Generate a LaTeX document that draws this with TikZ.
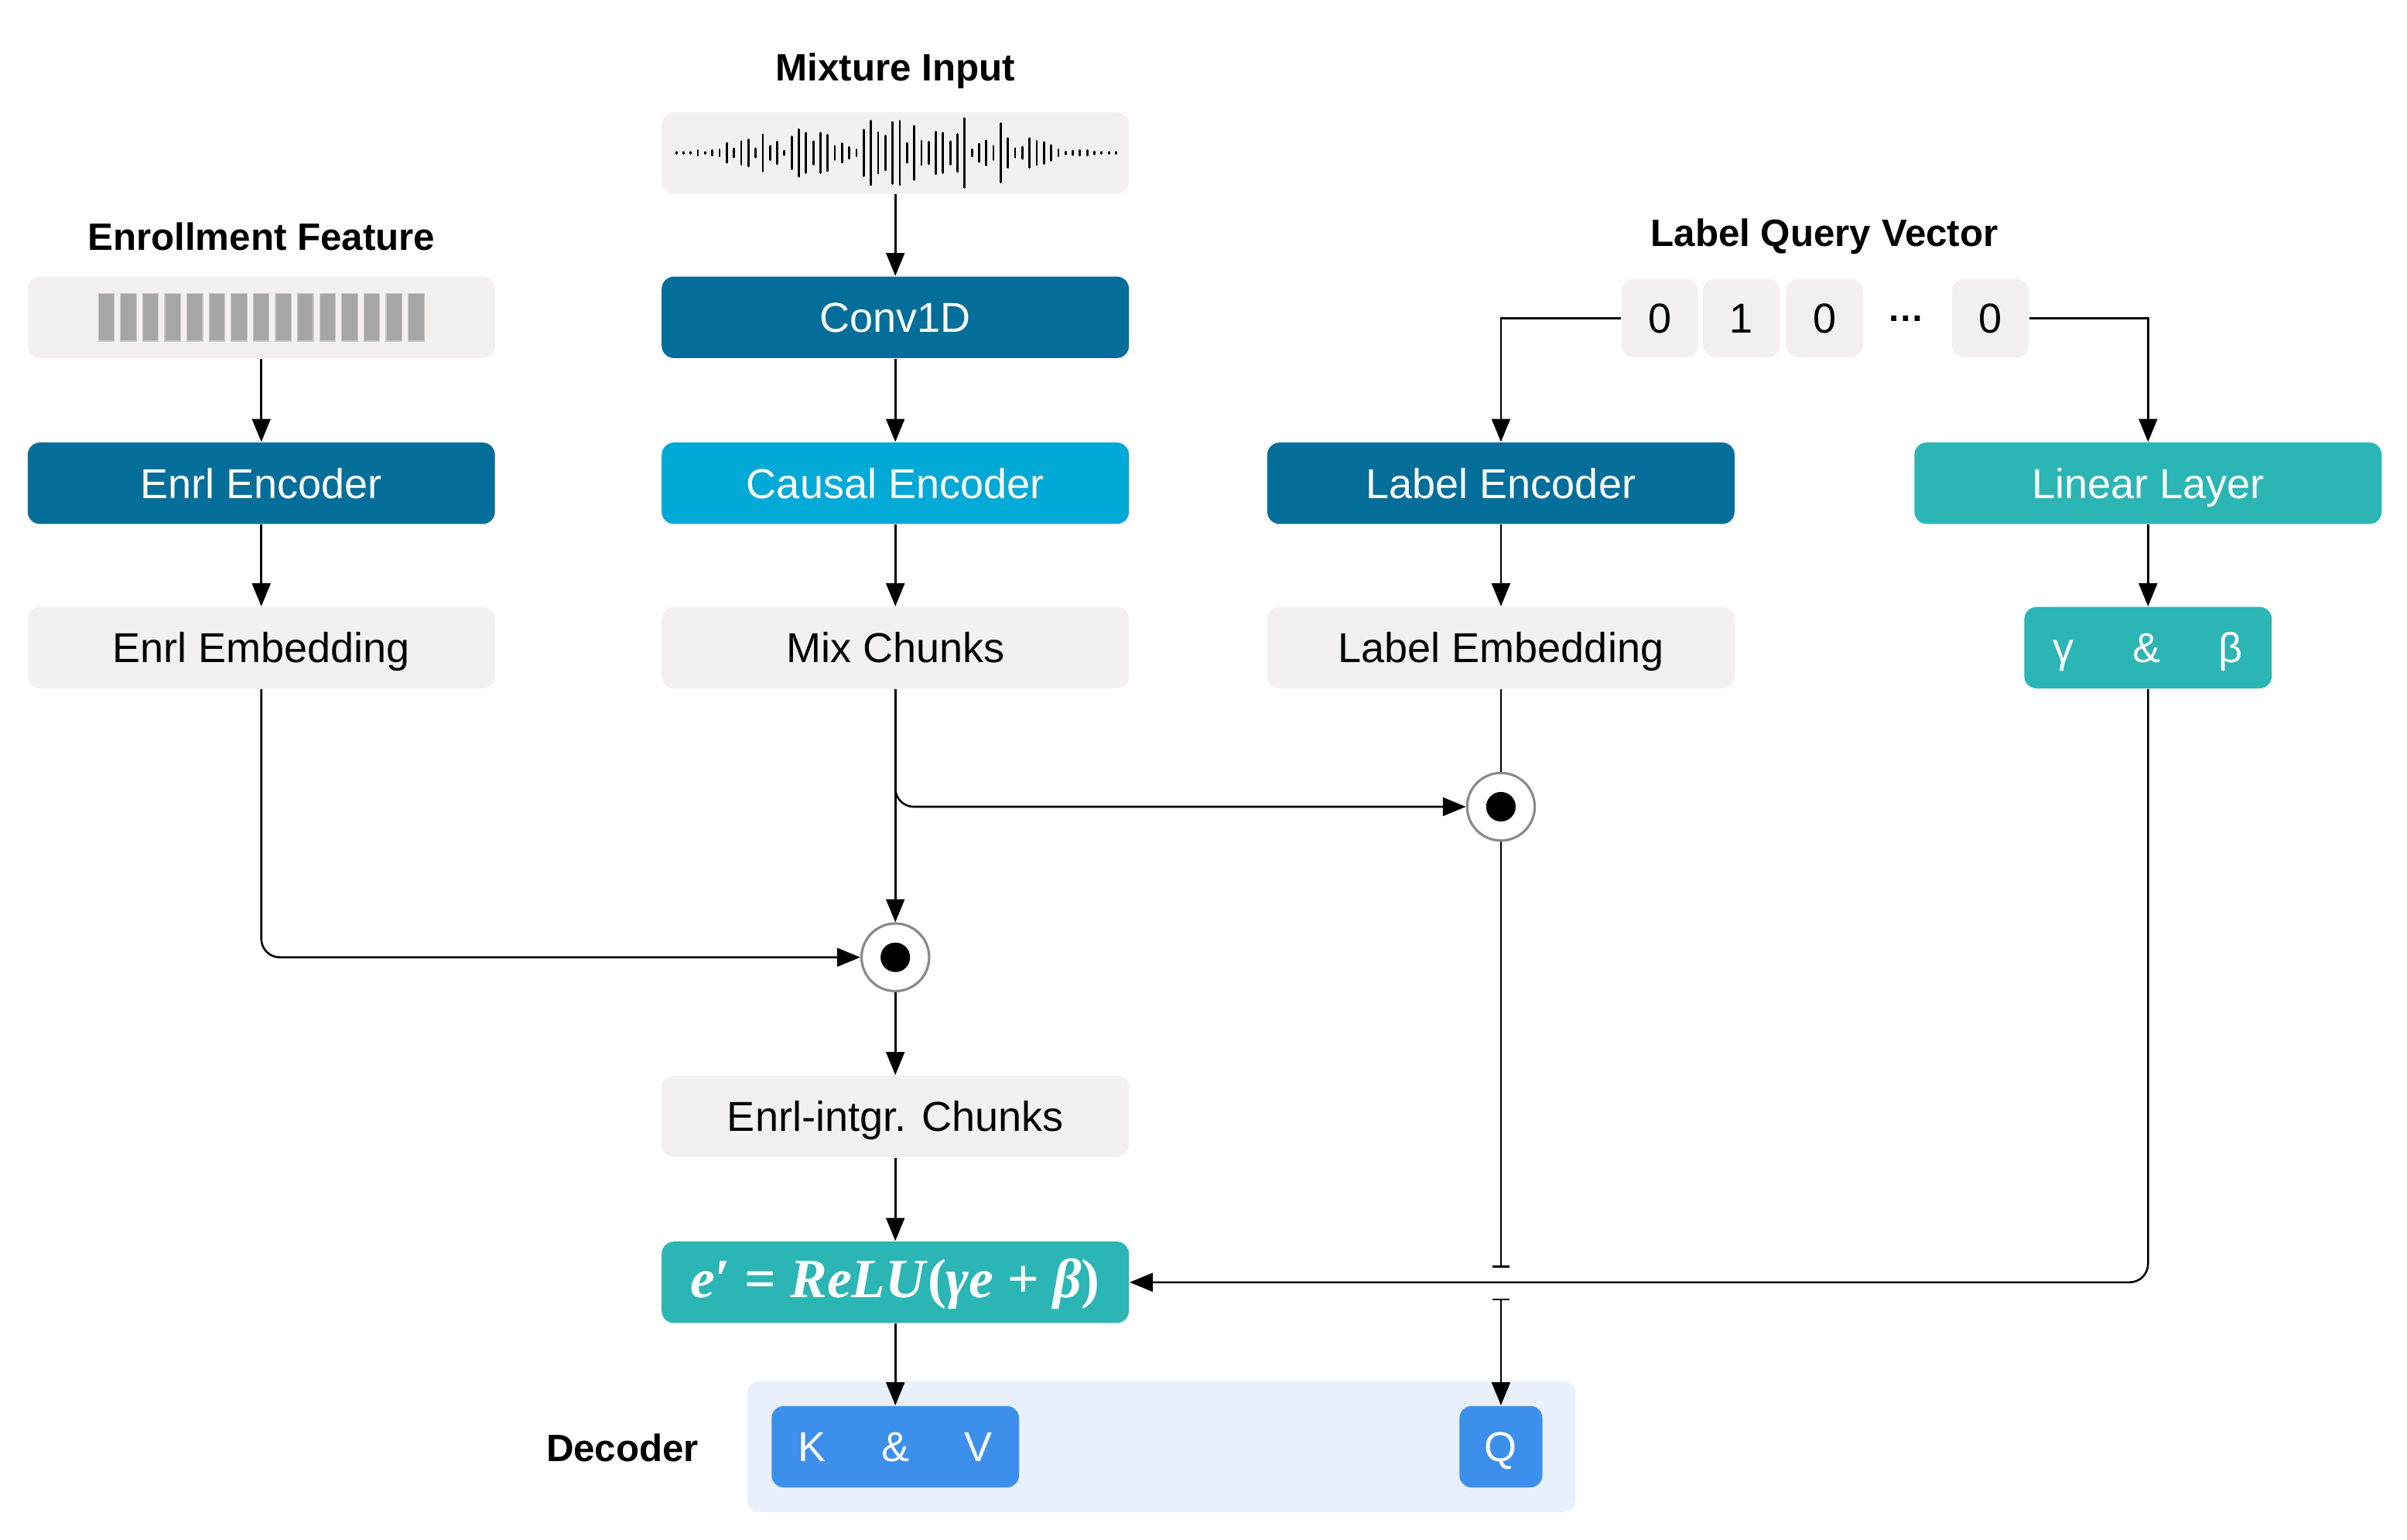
\documentclass[tikz,border=0pt]{standalone}
\usepackage{fontspec}
\setmainfont{Liberation Sans}
\newfontfamily\formulafont{Liberation Serif}
\usetikzlibrary{arrows.meta}

\begin{document}
\begin{tikzpicture}[x=0.5pt,y=0.5pt,yscale=-1,xscale=1,
  arr/.style={line width=0.65pt, -{Triangle[length=7.5pt,width=6pt]}},
  wire/.style={line width=0.65pt},
  plainbox/.style={rounded corners=4pt, minimum width=152pt, minimum height=26.5pt, inner sep=0pt,
    text height=12.3pt, text depth=2.5pt,
    fill={rgb, 255:red, 245; green, 240; blue, 240 }, font=\fontsize{13.6}{16}\selectfont},
  darkbox/.style={plainbox, fill={rgb, 255:red, 3; green, 110; blue, 154 }, text=white},
  causalbox/.style={plainbox, fill={rgb, 255:red, 0; green, 169; blue, 214 }, text=white},
  tealbox/.style={plainbox, fill={rgb, 255:red, 43; green, 181; blue, 181 }, text=white},
  qkvbox/.style={plainbox, fill={rgb, 255:red, 61; green, 143; blue, 236 }, text=white},
  bitbox/.style={plainbox, minimum width=25pt, minimum height=25.5pt},
  heading/.style={inner sep=0pt, font=\fontsize{12.4}{15}\selectfont\bfseries},
  dotnode/.style={circle, draw={rgb, 255:red, 138; green, 138; blue, 138 }, line width=0.8pt, fill=white,
    minimum size=22pt, inner sep=0pt, path picture={\fill[black] (path picture bounding box.center) circle (4.8pt);}}
]
%uncomment if require: \path (0,1002); %set diagram left start at 0, and has height of 1002
\path[use as bounding box] (0,0) rectangle (1566,1002.2);

% Text Node
\draw (582.5,46) node [heading] (mixtitle) {Mixture Input};
% Text Node
\draw (170,154) node [heading] (enrltitle) {Enrollment Feature};
% Text Node
\draw (1187,154) node [heading] (querytitle) {Label Query Vector};

%Shape: Rectangle (mixture waveform)
\draw (582.5,99.5) node [plainbox] (wave) {};
%Straight Lines (waveform)
\draw [line width=0.7pt, line cap=round] (440,99)--(440,100) (444.69,99)--(444.69,100) (449.38,99)--(449.38,100) (454.07,97.83)--(454.07,101.17) (458.76,99)--(458.76,100) (463.45,97.83)--(463.45,101.17) (468.14,97.33)--(468.14,101.67) (472.83,93.17)--(472.83,105.83) (477.52,96.67)--(477.52,102.33) (482.21,92)--(482.21,107) (486.9,90.83)--(486.9,108.17) (491.59,96.67)--(491.59,102.33) (496.28,87.5)--(496.28,111.5) (500.97,95)--(500.97,104) (505.66,92.33)--(505.66,106.67) (510.35,98.17)--(510.35,100.83) (515.04,89)--(515.04,110) (519.73,84.17)--(519.73,114.83) (524.42,86.5)--(524.42,112.5) (529.11,92)--(529.11,107) (533.8,86.5)--(533.8,112.5) (538.49,87.83)--(538.49,111.17) (543.18,95)--(543.18,104) (547.87,93.33)--(547.87,105.67) (552.56,95.83)--(552.56,103.17) (557.25,97.33)--(557.25,101.67) (561.94,84.5)--(561.94,114.5) (566.63,78.67)--(566.63,120.33) (571.32,86.17)--(571.32,112.83) (576.01,88.33)--(576.01,110.67) (580.7,79.5)--(580.7,119.5) (585.39,78.67)--(585.39,120.33) (590.08,93.17)--(590.08,105.83) (594.77,82)--(594.77,117) (599.46,91.67)--(599.46,107.33) (604.15,92.33)--(604.15,106.67) (608.84,85.83)--(608.84,113.17) (613.53,86.5)--(613.53,112.5) (618.22,92)--(618.22,107) (622.91,87.33)--(622.91,111.67) (627.6,77)--(627.6,122) (632.29,97.33)--(632.29,101.67) (636.98,93.67)--(636.98,105.33) (641.67,91.5)--(641.67,107.5) (646.36,95)--(646.36,104) (651.05,80.33)--(651.05,118.67) (655.74,90)--(655.74,109) (660.43,96.5)--(660.43,102.5) (665.12,95.67)--(665.12,103.33) (669.81,90)--(669.81,109) (674.5,91.67)--(674.5,107.33) (679.19,92.5)--(679.19,106.5) (683.88,94.5)--(683.88,104.5) (688.57,97.33)--(688.57,101.67) (693.26,98.67)--(693.26,100.33) (697.95,98.17)--(697.95,100.83) (702.64,97.83)--(702.64,101.17) (707.33,97.83)--(707.33,101.17) (712.02,98.67)--(712.02,100.33) (716.71,99)--(716.71,100) (721.4,99)--(721.4,100) (726.09,99)--(726.09,100) ;

%Shape: Rectangle (enrollment feature)
\draw (170,206.5) node [plainbox] (feat) {};
%Shape: Rectangle (feature bars)
\draw [draw={rgb, 255:red, 200; green, 200; blue, 200 }, line width=0.3pt, fill={rgb, 255:red, 166; green, 166; blue, 166 }] (64,191) rectangle (74.3,222) (78.4,191) rectangle (88.7,222) (92.8,191) rectangle (103.1,222) (107.2,191) rectangle (117.5,222) (121.6,191) rectangle (131.9,222) (136,191) rectangle (146.3,222) (150.4,191) rectangle (160.7,222) (164.8,191) rectangle (175.1,222) (179.2,191) rectangle (189.5,222) (193.6,191) rectangle (203.9,222) (208,191) rectangle (218.3,222) (222.4,191) rectangle (232.7,222) (236.8,191) rectangle (247.1,222) (251.2,191) rectangle (261.5,222) (265.6,191) rectangle (275.9,222) ;

% Text Node
\draw (582.5,206.5) node [darkbox] (conv) {Conv1D};
% Text Node
\draw (582.5,314.5) node [causalbox] (causal) {Causal Encoder};
% Text Node
\draw (582.5,421.5) node [plainbox] (mix) {Mix Chunks};
% Text Node
\draw (170,314.5) node [darkbox] (enrlenc) {Enrl Encoder};
% Text Node
\draw (170,421.5) node [plainbox] (enrlemb) {Enrl Embedding};

% Text Node
\draw (1080,207) node [bitbox] (bit1) {0};
\draw (1133,207) node [bitbox] (bit2) {1};
\draw (1187,207) node [bitbox] (bit3) {0};
\draw (1240,207) node [inner sep=0pt, text height=12.3pt, text depth=2.5pt, font=\fontsize{12}{14}\selectfont\bfseries] (bitdots) {\raisebox{3.8pt}{…}};
\draw (1295,207) node [bitbox] (bitn) {0};

% Text Node
\draw (976.5,314.5) node [darkbox] (labelenc) {Label Encoder};
% Text Node
\draw (976.5,421.5) node [plainbox] (labelemb) {Label Embedding};
% Text Node
\draw (1397.5,314.5) node [tealbox] (linear) {Linear Layer};
% Text Node
\draw (1397.5,421.5) node [tealbox, minimum width=80.5pt] (gammabeta) {γ\hspace{19pt}\&\hspace{19pt}β};

%Shape: Circle
\draw (976.5,525) node [dotnode] (dotlabel) {};
%Shape: Circle
\draw (582.5,623) node [dotnode] (dotenrl) {};

% Text Node
\draw (582.5,726.5) node [plainbox] (chunks) {Enrl-intgr. Chunks};
% Text Node
\draw (582.5,834.5) node [tealbox, text height=14pt, text depth=4pt] (film) {\formulafont\fontsize{18}{20}\selectfont\bfseries\itshape e\textup{′ = }ReLU\textup{(}γe\textup{ + }β\textup{)}};

%Shape: Rectangle (decoder)
\draw (755.5,941.5) node [plainbox, minimum width=269.5pt, minimum height=42.5pt, fill={rgb, 255:red, 232; green, 240; blue, 252 }] (decoder) {};
% Text Node
\draw (405,942) node [heading] (dectitle) {Decoder};
% Text Node
\draw (582.5,941.5) node [qkvbox, minimum width=80.5pt] (kv) {K\hspace{18pt}\&\hspace{18pt}V};
% Text Node
\draw (976.5,941.5) node [qkvbox, minimum width=27pt] (query) {Q};

%Straight Lines
\draw [arr] (wave) -- (conv);
\draw [arr] (conv) -- (causal);
\draw [arr] (causal) -- (mix);
\draw [arr] (feat) -- (enrlenc);
\draw [arr] (enrlenc) -- (enrlemb);
\draw [arr] (bit1.west) -| (labelenc.north);
\draw [arr] (bitn.east) -| (linear.north);
\draw [arr] (labelenc) -- (labelemb);
\draw [arr] (linear) -- (gammabeta);
\draw [wire] (labelemb) -- (dotlabel);
\draw [arr] (mix) -- (dotenrl);
\draw [arr, rounded corners=6pt] (mix.south) |- (dotlabel.west);
\draw [arr, rounded corners=6pt] (enrlemb.south) |- (dotenrl.west);
\draw [arr] (dotenrl) -- (chunks);
\draw [arr] (chunks) -- (film);
\draw [arr, rounded corners=6pt] (gammabeta.south) |- (film.east);
\draw [arr] (film) -- (kv);
%Straight Lines (jump over the gamma/beta line)
\coordinate (jumptop) at (976.5,825);
\coordinate (jumpbot) at (976.5,845);
\draw [wire, -{Bar[width=5.5pt]}] (dotlabel) -- (jumptop);
\draw [line width=0.65pt, {Bar[width=5.5pt]}-{Triangle[length=7.5pt,width=6pt]}] (jumpbot) -- (query);

\end{tikzpicture}
\end{document}
